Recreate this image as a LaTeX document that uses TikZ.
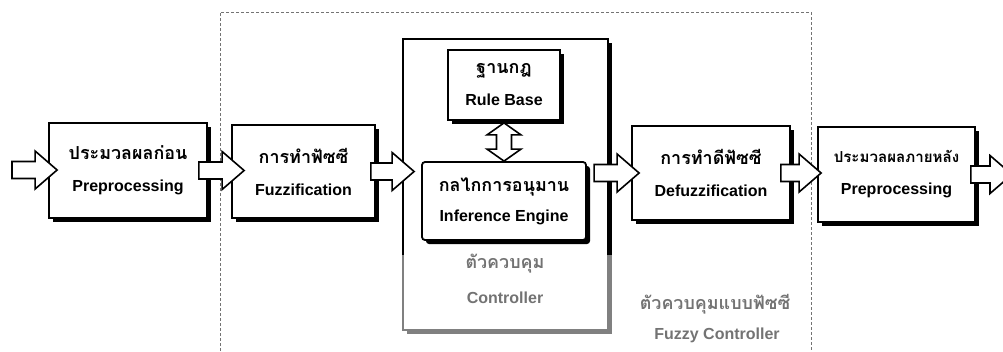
\documentclass[tikz,border=0pt]{standalone}
\usepackage{fontspec}
\setmainfont{Liberation Sans}
\newfontfamily\thai[Script=Thai,Scale=1.12]{Loma}
\usetikzlibrary{shadows,calc}
\tikzset{
  box/.style={draw=black, line width=1.8pt, fill=white, align=center,
    font=\fontsize{16}{32}\selectfont\bfseries, inner sep=0pt,
    drop shadow={shadow xshift=4pt, shadow yshift=-4pt, opacity=1, fill=black}},
  barrow/.style={draw=black, line width=1.6pt, fill=white, line join=miter},
  frame/.style={densely dashed, line width=0.7pt, black!55},
  lbl/.style={font=\fontsize{16}{20}\selectfont\bfseries, text=black!55, inner sep=0pt},
}
\newcommand{\rarrow}[2]{%
  \draw[barrow] let \p1=(#1), \p2=(#2) in
    (\x1,\y1+8.5pt) -- (\x2-22pt,\y1+8.5pt) -- (\x2-22pt,\y1+19pt) -- (\x2,\y1)
    -- (\x2-22pt,\y1-19pt) -- (\x2-22pt,\y1-8.5pt) -- (\x1,\y1-8.5pt) -- cycle;}
\begin{document}
\begin{tikzpicture}[x=1pt,y=-1pt]
\useasboundingbox (0,0) rectangle (1003,351);
% dashed frame of the fuzzy controller
\coordinate (f1) at (220,351);
\coordinate (f2) at (220,12);
\coordinate (f3) at (811,12);
\coordinate (f4) at (811,351);
\draw[frame] (f1) -- (f2) -- (f3) -- (f4);

% controller box
\node[box, minimum width=205pt, minimum height=291pt] (ctl) at (505.5,184.5) {};
\fill[white, opacity=0.5] (395,255) rectangle (625,345);
\node[lbl] (ctlth) at (505,264) {\thai ตัวควบคุม};
\node[lbl] (ctlen) at (505,298) {Controller};

% blocks
\node[box, minimum width=158pt, minimum height=95pt] (pre) at (128,170.5)
  {{\thai ประมวลผลก่อน}\\Preprocessing};
\node[box, minimum width=143pt, minimum height=93pt] (fuz) at (303.5,171.5)
  {{\thai การทำฟัซซี}\\Fuzzification};
\node[box, minimum width=112pt, minimum height=70pt] (rule) at (504,85)
  {{\thai ฐานกฎ}\\Rule Base};
\node[box, rounded corners=3pt, minimum width=164pt, minimum height=78pt, font=\fontsize{16}{30}\selectfont\bfseries] (inf) at (504,201)
  {{\thai กลไกการอนุมาน}\\Inference Engine};
\node[box, minimum width=158pt, minimum height=94pt] (def) at (711,173)
  {{\thai การทำดีฟัซซี}\\Defuzzification};
\node[box, minimum width=157pt, minimum height=95pt] (post) at (896.5,174.5)
  {{\fontsize{13.5}{32}\selectfont\thai ประมวลผลภายหลัง}\\Preprocessing};

% fuzzy controller label
\node[lbl] (fcth) at (715,304) {\thai ตัวควบคุมแบบฟัซซี};
\node[lbl] (fcen) at (717,335) {Fuzzy Controller};

% block arrows
\coordinate (inp) at (12,170);
\coordinate (outp) at (1012,176);
\coordinate (dstart) at ($(def.west)+(-37pt,0)$);
\rarrow{inp}{[xshift=9pt]pre.west}
\rarrow{[xshift=-9pt]pre.east}{[xshift=13pt]fuz.west}
\rarrow{[xshift=-5pt]fuz.east}{[xshift=-7pt]inf.west}
\rarrow{dstart}{[xshift=8pt]def.west}
\rarrow{[xshift=-10pt]def.east}{[xshift=4pt]post.west}
\rarrow{[xshift=-5pt]post.east}{outp}

% double arrow between rule base and inference engine
\draw[barrow] let \p1=(rule.south), \p2=(inf.north) in
  (\x1,\y1-2pt) -- (\x1+17pt,\y1-14pt) -- (\x1+7.5pt,\y1-14pt) -- (\x1+7.5pt,\y2+12pt)
  -- (\x1+17pt,\y2+12pt) -- (\x1,\y2) -- (\x1-17pt,\y2+12pt) -- (\x1-7.5pt,\y2+12pt)
  -- (\x1-7.5pt,\y1-14pt) -- (\x1-17pt,\y1-14pt) -- cycle;
\end{tikzpicture}
\end{document}
